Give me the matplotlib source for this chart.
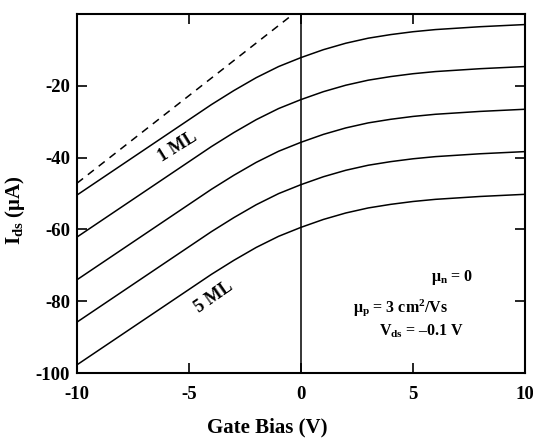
import numpy as np
import matplotlib
matplotlib.use('Agg')
import matplotlib.pyplot as plt

plt.rcParams['font.family'] = 'Liberation Serif'
plt.rcParams['font.weight'] = 'bold'
plt.rcParams['axes.unicode_minus'] = False
plt.rcParams['mathtext.fontset'] = 'custom'
plt.rcParams['mathtext.rm'] = 'Liberation Serif:bold'
plt.rcParams['mathtext.bf'] = 'Liberation Serif:bold'
plt.rcParams['mathtext.it'] = 'Liberation Serif:bold'

# gate bias (V)
vg = [-10, -8, -6, -4, -3, -2, -1, 0, 1, 2, 3, 4, 5, 6, 8, 10]

# drain current (uA), 1 ML ... 5 ML
ids_1ml = [-50.4, -42.0, -33.6, -25.2, -21.3, -17.7, -14.6, -12.1, -9.9, -8.1, -6.7, -5.7, -4.9, -4.3, -3.5, -2.9]
ids_2ml = [-62.1, -53.7, -45.3, -36.9, -33.0, -29.4, -26.3, -23.8, -21.6, -19.8, -18.4, -17.4, -16.6, -16.0, -15.2, -14.6]
ids_3ml = [-74.0, -65.6, -57.2, -48.8, -44.9, -41.3, -38.2, -35.7, -33.5, -31.7, -30.3, -29.3, -28.5, -27.9, -27.1, -26.5]
ids_4ml = [-85.8, -77.4, -69.0, -60.6, -56.7, -53.1, -50.0, -47.5, -45.3, -43.5, -42.1, -41.1, -40.3, -39.7, -38.9, -38.3]
ids_5ml = [-97.7, -89.3, -80.9, -72.5, -68.6, -65.0, -61.9, -59.4, -57.2, -55.4, -54.0, -53.0, -52.2, -51.6, -50.8, -50.2]
curves = [ids_1ml, ids_2ml, ids_3ml, ids_4ml, ids_5ml]

# linear reference (dashed)
ref_x = [-10, -0.35]
ref_y = [-47.1, 0]

fig = plt.figure(figsize=(5.33, 4.42), dpi=100)
ax = fig.add_axes([0.1445, 0.156, 0.8405, 0.812])

for c in curves:
    ax.plot(vg, c, color='black', lw=1.1)
ax.plot(ref_x, ref_y, color='black', lw=1.1, ls=(0, (5, 4)))
ax.axvline(0, color='black', lw=1.1)

ax.set_xlim(-10, 10)
ax.set_ylim(-100, 0)
ax.set_xticks([-10, -5, 0, 5, 10])
ax.set_yticks([-100, -80, -60, -40, -20])
ax.tick_params(direction='in', length=7, width=1.2, top=True, right=True, labelsize=13.5)
ax.tick_params(axis='x', pad=9)
ax.tick_params(axis='y', pad=5)
for s in ax.spines.values():
    s.set_linewidth(1.5)

ax.set_xlabel('Gate Bias (V)', fontsize=15, fontweight='bold')
ax.xaxis.set_label_coords(0.424, -0.125)
ax.set_ylabel('I$_{\\rm ds}$ (μA)', fontsize=15, fontweight='bold')
ax.yaxis.set_label_coords(-0.112, 0.454)

ax.text(-5.5, -37.0, '1 ML', rotation=32, ha='center', va='center', fontsize=13, fontweight='bold')
ax.text(-3.9, -78.8, '5 ML', rotation=35, ha='center', va='center', fontsize=13, fontweight='bold')

ax.text(7.7, -73.3, 'μ$_{\\rm n}$ = 0', ha='right', va='center', fontsize=11.5, fontweight='bold')
ax.text(2.3, -81.8, 'μ$_{\\rm p}$ = 3 cm$^{\\rm 2}$/Vs', ha='left', va='center', fontsize=11.5, fontweight='bold')
ax.text(7.3, -88.5, 'V$_{\\rm ds}$ = \u20130.1 V', ha='right', va='center', fontsize=11.5, fontweight='bold')

fig.savefig('out.png', dpi=100)
